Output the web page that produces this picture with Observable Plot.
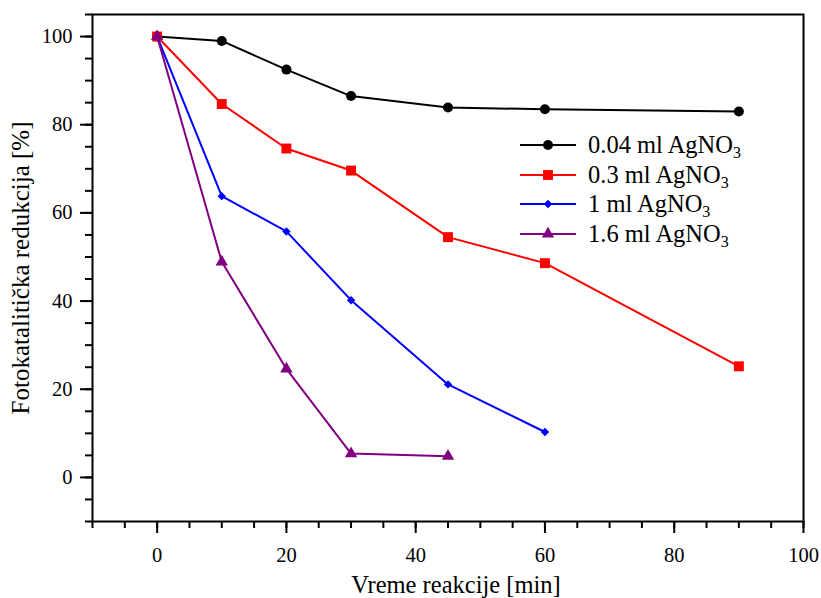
<!DOCTYPE html>
<html>
<head>
<meta charset="utf-8">
<script src="https://cdn.jsdelivr.net/npm/d3@7"></script>
<script src="https://cdn.jsdelivr.net/npm/@observablehq/plot@0.6"></script>
<style>
  html, body { margin: 0; padding: 0; background: #fff; }
  #chart { width: 821px; height: 598px; }
  #chart svg, #chart svg text { font-family: 'Liberation Serif', 'Times New Roman', serif !important; }
</style>
</head>
<body>
<div id="chart"></div>
<script>
// ---- data ----
const seriesNames = ["0.04 ml AgNO3", "0.3 ml AgNO3", "1 ml AgNO3", "1.6 ml AgNO3"];
const seriesColors = ["#000000", "#ff0000", "#0000ff", "#800080"];
const seriesSymbols = ["circle", "square", "diamond2", "triangle"];
const seriesRadius = [5, 5.6, 3.8, 4.6];

const timesA = [0, 10, 20, 30, 45, 60, 90];
const valuesA = [100, 99.0, 92.5, 86.5, 83.9, 83.5, 83.0];
const timesB = [0, 10, 20, 30, 45, 60, 90];
const valuesB = [100, 84.7, 74.6, 69.6, 54.5, 48.6, 25.2];
const timesC = [0, 10, 20, 30, 45, 60];
const valuesC = [100, 63.8, 55.8, 40.2, 21.1, 10.3];
const timesD = [0, 10, 20, 30, 45];
const valuesD = [100, 48.9, 24.6, 5.4, 4.8];

const majorTicksX = [0, 20, 40, 60, 80, 100];
const majorTicksY = [0, 20, 40, 60, 80, 100];
const minorTicksX = d3.range(-10, 101, 5);
const minorTicksY = d3.range(-10, 106, 5);

const xLabel = "Vreme reakcije [min]";
const yLabel = "Fotokatalitička redukcija [%]";

// ---- build ----
const allTimes = [timesA, timesB, timesC, timesD];
const allValues = [valuesA, valuesB, valuesC, valuesD];
const tables = allTimes.map((ts, i) => ts.map((t, j) => ({t, v: allValues[i][j]})));

const FONT = "'Liberation Serif', 'Times New Roman', serif";

const seriesMarks = tables.flatMap((tb, i) => [
  Plot.line(tb, {x: "t", y: "v", stroke: seriesColors[i], strokeWidth: 2}),
  Plot.dot(tb, {x: "t", y: "v", fill: seriesColors[i], stroke: "none", symbol: seriesSymbols[i], r: seriesRadius[i]})
]);

const chart = Plot.plot({
  width: 821,
  height: 598,
  marginLeft: 92,
  marginRight: 18,
  marginTop: 14,
  marginBottom: 77,
  style: {fontFamily: FONT, fontSize: "20px", background: "#fff", color: "#000"},
  x: {domain: [-10, 100]},
  y: {domain: [-10, 105]},
  marks: [
    Plot.axisX({ticks: minorTicksX, tickSize: 7, tickFormat: () => "", strokeWidth: 2, label: null}),
    Plot.axisY({ticks: minorTicksY, tickSize: 7, tickFormat: () => "", strokeWidth: 2, label: null}),
    Plot.axisX({ticks: majorTicksX, tickSize: 12, tickPadding: 14, strokeWidth: 2, label: null, fontSize: 20.5}),
    Plot.axisY({ticks: majorTicksY, tickSize: 12, tickPadding: 8, strokeWidth: 2, label: null, fontSize: 20.5}),
    Plot.text([xLabel], {frameAnchor: "bottom", text: d => d, dy: 71, dx: 8, fontSize: 24.5, lineAnchor: "bottom", textAnchor: "middle"}),
    Plot.text([yLabel], {frameAnchor: "left", text: d => d, dx: -72, rotate: -90, fontSize: 25, textAnchor: "middle"}),
    ...seriesMarks,
    Plot.frame({stroke: "#000", strokeWidth: 2})
  ]
});

document.getElementById("chart").appendChild(chart);

// ---- legend (inside plot area) ----
const svg = d3.select(chart);
const lg = svg.append("g").attr("font-family", FONT).attr("font-size", 24.5).attr("text-anchor", "start");
const legendRowsY = [145, 175, 204, 234];
const symbolMap = {circle: d3.symbolCircle, square: d3.symbolSquare, diamond2: d3.symbolDiamond2, triangle: d3.symbolTriangle};
seriesNames.forEach((name, i) => {
  const y = legendRowsY[i];
  const g = lg.append("g");
  g.append("line").attr("x1", 520).attr("x2", 576).attr("y1", y).attr("y2", y)
    .attr("stroke", seriesColors[i]).attr("stroke-width", 2);
  g.append("path").attr("transform", `translate(548,${y})`)
    .attr("d", d3.symbol(symbolMap[seriesSymbols[i]], Math.PI * seriesRadius[i] ** 2)())
    .attr("fill", seriesColors[i]);
  const t = g.append("text").attr("x", 588).attr("y", y + 8).attr("fill", "#000").attr("text-anchor", "start");
  t.append("tspan").text(name.slice(0, -1));
  t.append("tspan").attr("font-size", 16).attr("dy", 5).text(name.slice(-1));
});
</script>
</body>
</html>
